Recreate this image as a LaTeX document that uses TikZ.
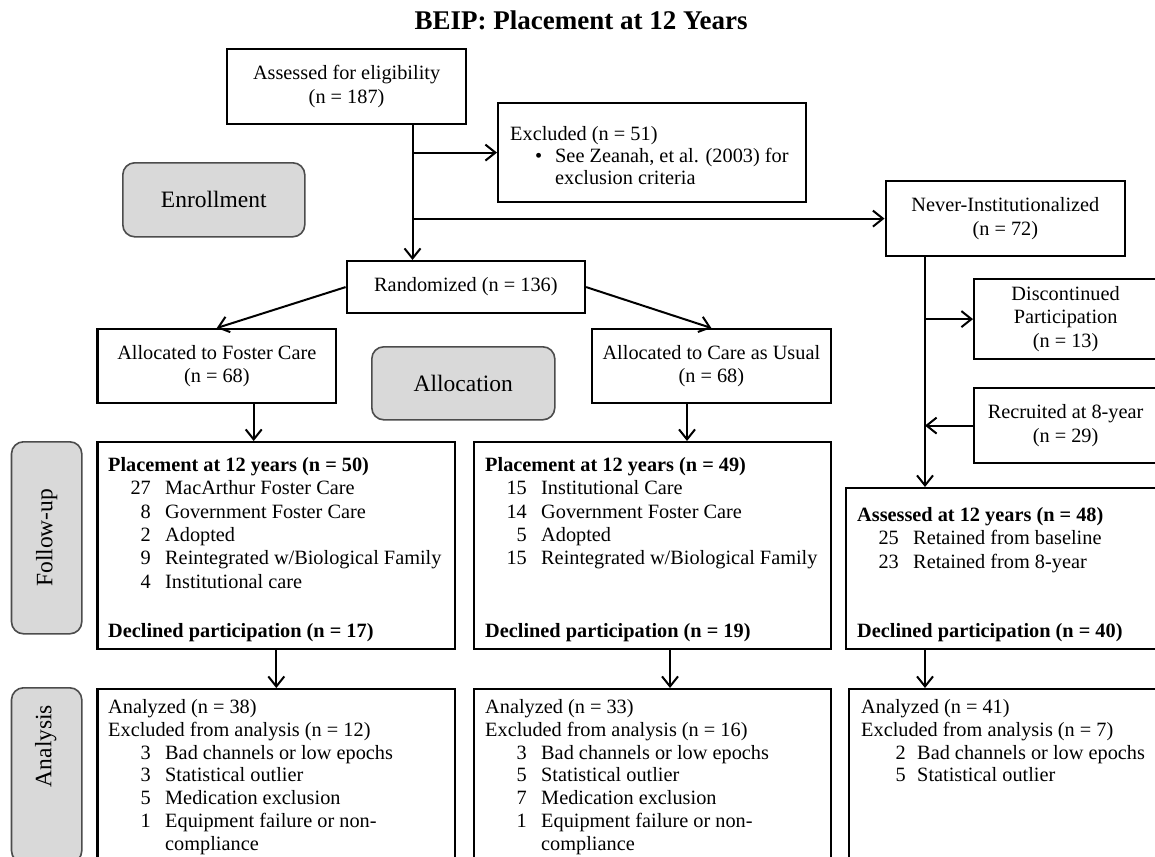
\documentclass[tikz,border=0pt]{standalone}
\usepackage{fontspec}
\setmainfont{Liberation Serif}
\usetikzlibrary{arrows.meta}

\newcommand{\bodysize}{\fontsize{20.3}{23.3}\selectfont}
\newcommand{\stagesize}{\fontsize{23.5}{26}\selectfont}

\begin{document}
\begin{tikzpicture}[x=1pt,y=-1pt,
  box/.style={draw,line width=2.2pt,anchor=north west,inner sep=0pt,align=center,font=\bodysize},
  stage/.style={draw=black!70,fill=black!15,line width=1.6pt,rounded corners=12pt,anchor=north west,inner sep=0pt,font=\stagesize},
  txt/.style={anchor=base west,inner sep=0pt,font=\bodysize},
  num/.style={anchor=base east,inner sep=0pt,font=\bodysize},
  hd/.style={txt,font=\bodysize\bfseries},
  arr/.style={line width=2pt,-{Straight Barb[length=10pt,width=16pt]}}]
  \useasboundingbox[fill=white] (0,0) rectangle (1155,856);
  \node[font=\fontsize{27}{30}\selectfont\bfseries,anchor=base] (title) at (581,30) {BEIP: Placement at 12 Years};

  \node[box,minimum width=239pt,minimum height=75pt] (assess) at (226,48) {Assessed for eligibility\\(n = 187)};
  \node[box,minimum width=308pt,minimum height=99pt] (excl) at (497,102) {};
  \node[txt] (exclhead) at (510,140) {Excluded (n = 51)};
  \node[txt] (exclbul) at (535,162) {•};
  \node[txt] (excla) at (555,162) {See Zeanah, et al. (2003) for};
  \node[txt] (exclb) at (555,184) {exclusion criteria};
  \node[stage,minimum width=182pt,minimum height=74pt] (enroll) at (122,162) {Enrollment};
  \node[box,minimum width=239.5pt,minimum height=75pt] (never) at (884.5,180) {Never-Institutionalized\\(n = 72)};
  \node[box,minimum width=238.4pt,minimum height=52pt] (rand) at (345.6,260) {Randomized (n = 136)};
  \node[box,minimum width=238.6pt,minimum height=74pt] (foster) at (96.4,328) {Allocated to Foster Care\\(n = 68)};
  \node[stage,minimum width=183pt,minimum height=73pt] (alloc) at (371,346) {Allocation};
  \node[box,minimum width=239.5pt,minimum height=74pt] (cau) at (590.5,328) {Allocated to Care as Usual\\(n = 68)};
  \node[box,minimum width=183pt,minimum height=80pt] (disc) at (973,278) {Discontinued\\Participation\\(n = 13)};
  \node[box,minimum width=183pt,minimum height=75pt] (recr) at (973,387) {Recruited at 8-year\\(n = 29)};

  \node[stage,minimum width=70.3pt,minimum height=192pt] (follow) at (10.7,441) {};
  \node[rotate=90,font=\stagesize] (followtxt) at (follow.center) {Follow-up};
  \node[stage,minimum width=70.3pt,minimum height=175pt] (analysis) at (10.7,687) {};
  \node[rotate=90,font=\stagesize] (analysistxt) at (45.8,746) {Analysis};

  \node[box,minimum width=357.6pt,minimum height=207pt] (pl1) at (96.4,441) {};
  \node[hd] (pahead) at (108,471.5) {Placement at 12 years (n = 50)};
  \foreach \k/\t [count=\i] in {27/MacArthur Foster Care,8/Government Foster Care,2/Adopted,9/{Reintegrated w/Biological Family},4/Institutional care}
    {\node[num] (pak\i) at (151,471.5+23.3*\i) {\k};
     \node[txt] (pat\i) at (165,471.5+23.3*\i) {\t};}
  \node[hd] (padecl) at (108,637) {Declined participation (n = 17)};

  \node[box,minimum width=357.4pt,minimum height=207pt] (pl2) at (472.6,441) {};
  \node[hd] (pbhead) at (485,471.5) {Placement at 12 years (n = 49)};
  \foreach \k/\t [count=\i] in {15/Institutional Care,14/Government Foster Care,5/Adopted,15/{Reintegrated w/Biological Family}}
    {\node[num] (pbk\i) at (527,471.5+23.3*\i) {\k};
     \node[txt] (pbt\i) at (541,471.5+23.3*\i) {\t};}
  \node[hd] (pbdecl) at (485,637) {Declined participation (n = 19)};

  \node[box,minimum width=320pt,minimum height=161pt] (as12) at (845,487) {};
  \node[hd] (pchead) at (857,521.5) {Assessed at 12 years (n = 48)};
  \foreach \k/\t [count=\i] in {25/Retained from baseline,23/Retained from 8-year}
    {\node[num] (pck\i) at (899,521.5+23.3*\i) {\k};
     \node[txt] (pct\i) at (913,521.5+23.3*\i) {\t};}
  \node[hd] (pcdecl) at (857,637) {Declined participation (n = 40)};

  \node[box,minimum width=357.6pt,minimum height=180pt] (an1) at (96.4,688) {};
  \node[txt] (aahead) at (108,713.5) {Analyzed (n = 38)};
  \node[txt] (aaexcl) at (108,736.3) {Excluded from analysis (n = 12)};
  \foreach \k/\t [count=\i] in {3/Bad channels or low epochs,3/Statistical outlier,5/Medication exclusion,1/Equipment failure or non-}
    {\node[num] (aak\i) at (151,736.3+22.8*\i) {\k};
     \node[txt] (aat\i) at (165,736.3+22.8*\i) {\t};}
  \node[txt] (aamore) at (165,850.3) {compliance};

  \node[box,minimum width=357.4pt,minimum height=180pt] (an2) at (472.6,688) {};
  \node[txt] (abhead) at (485,713.5) {Analyzed (n = 33)};
  \node[txt] (abexcl) at (485,736.3) {Excluded from analysis (n = 16)};
  \foreach \k/\t [count=\i] in {3/Bad channels or low epochs,5/Statistical outlier,7/Medication exclusion,1/Equipment failure or non-}
    {\node[num] (abk\i) at (527,736.3+22.8*\i) {\k};
     \node[txt] (abt\i) at (541,736.3+22.8*\i) {\t};}
  \node[txt] (abmore) at (541,850.3) {compliance};

  \node[box,minimum width=320pt,minimum height=180pt] (an3) at (848,688) {};
  \node[txt] (achead) at (861,713.5) {Analyzed (n = 41)};
  \node[txt] (acexcl) at (861,736.3) {Excluded from analysis (n = 7)};
  \foreach \k/\t [count=\i] in {2/Bad channels or low epochs,5/Statistical outlier}
    {\node[num] (ack\i) at (906,736.3+22.8*\i) {\k};
     \node[txt] (act\i) at (917,736.3+22.8*\i) {\t};}

  \coordinate (trunk) at (412.5,0);
  \coordinate (side) at (925,0);
  \coordinate (fdrop) at (253.7,0);
  \coordinate (cdrop) at (687,0);
  \coordinate (pdrop) at (670,0);
  \draw[arr] (assess.south -| trunk) -- (rand.north -| trunk);
  \draw[arr] (trunk |- excl.west) -- (excl.west);
  \draw[arr] (trunk |- never.west) -- (never.west);
  \draw[arr] (rand.west) -- (foster.north);
  \draw[arr] (rand.east) -- (cau.north);
  \draw[arr] (foster.south -| fdrop) -- (pl1.north -| fdrop);
  \draw[arr] (cau.south -| cdrop) -- (pl2.north -| cdrop);
  \draw[arr] (pl1.south) -- (an1.north);
  \draw[arr] (pl2.south -| pdrop) -- (an2.north -| pdrop);
  \draw[arr] (never.south -| side) -- (as12.north -| side);
  \draw[arr] (side |- disc.west) -- (disc.west);
  \draw[arr] (recr.west) -- (side |- recr.west);
  \draw[arr] (as12.south -| side) -- (an3.north -| side);
\end{tikzpicture}
\end{document}
